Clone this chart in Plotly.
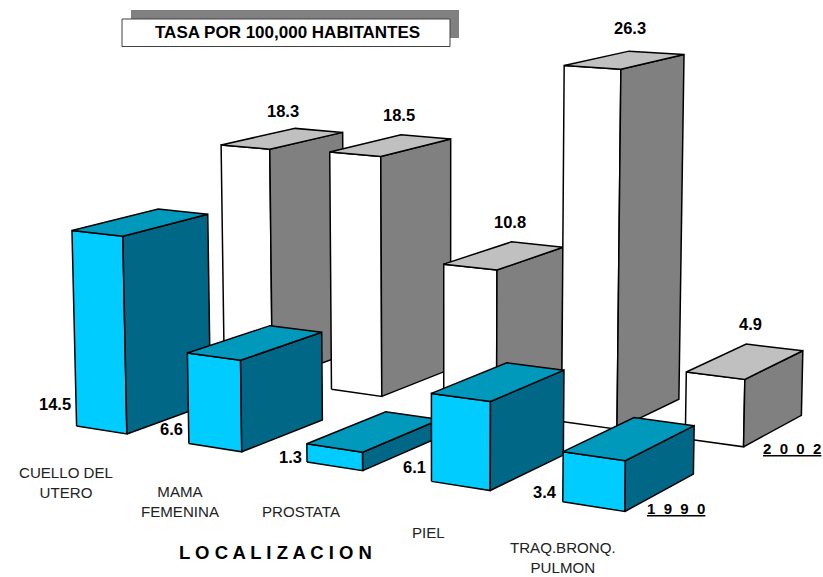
import numpy as np
import plotly.graph_objects as go

categories = ["CUELLO DEL<br>UTERO", "MAMA<br>FEMENINA", "PROSTATA", "PIEL", "TRAQ.BRONQ.<br>PULMON"]
values_1990 = [14.5, 6.6, 1.3, 6.1, 3.4]
values_2002 = [18.3, 18.5, 10.8, 26.3, 4.9]
series_names = ["1\u00a0\u00a09\u00a0\u00a09\u00a0\u00a00", "2\u00a0\u00a00\u00a0\u00a00\u00a0\u00a02"]
title_text = "TASA POR 100,000 HABITANTES"
axis_title = "L O C A L I Z A C I O N"

# Perspective camera: (category, series, rate) -> page pixels
CAMERA = np.array([
    [107.61, 165.955, -0.379672, 76.5881],
    [6.50401, -21.2995, -13.6809, 426.088],
    [-0.0247707, 0.0811231, -0.000850935, 1.0],
])
BAR_WIDTH = 0.454
BAR_DEPTH = 0.556

FONT = "Liberation Sans, Arial, sans-serif"
STYLES = [("#00CCFF", "#006786", "#0099BB"), ("#FFFFFF", "#808080", "#C0C0C0")]
CAT_LABEL_POS = [(65.5, 482), (180, 501), (301, 511), (428, 532), (563, 557.5)]
LABEL_POS_1990 = [(55, 404), (171, 429), (290, 457), (414.5, 467), (545, 492)]
LABEL_POS_2002 = [(283, 111), (399, 115), (510, 222), (630, 28), (750, 324)]


def proj(X, Y, Z):
    h = CAMERA @ np.array([X, Y, Z, 1.0])
    return h[0] / h[2], h[1] / h[2]


fig = go.Figure()
all_values = [values_1990, values_2002]
for s in (1, 0):
    for c, v in enumerate(all_values[s]):
        front, side, top = STYLES[s]

        def a(dx, dy, z):
            return proj(c + dx * BAR_WIDTH, s + dy * BAR_DEPTH, z)

        faces = [
            ([a(0, 0, 0), a(1, 0, 0), a(1, 0, v), a(0, 0, v)], front),
            ([a(1, 0, 0), a(1, 1, 0), a(1, 1, v), a(1, 0, v)], side),
            ([a(0, 0, v), a(1, 0, v), a(1, 1, v), a(0, 1, v)], top),
        ]
        for pts, col in faces:
            xs = [q[0] for q in pts] + [pts[0][0]]
            ys = [q[1] for q in pts] + [pts[0][1]]
            fig.add_trace(go.Scatter(
                x=xs, y=ys, fill="toself", fillcolor=col, mode="lines",
                line=dict(color="black", width=1.5), showlegend=False,
                name=f"{series_names[s]} {categories[c]}", hoverinfo="skip"))


def label(x, y, text, size=15, bold=False, color="black", **kw):
    t = f"<b>{text}</b>" if bold else text
    fig.add_annotation(x=x, y=y, xref="x", yref="y", text=t, showarrow=False,
                       font=dict(size=size, color=color, family=FONT, **kw),
                       align="center", xanchor="center", yanchor="middle")


for (x, y), v in zip(LABEL_POS_1990, values_1990):
    label(x, y, f"{v:.1f}", size=16.5, bold=True)
for (x, y), v in zip(LABEL_POS_2002, values_2002):
    label(x, y, f"{v:.1f}", size=16.5, bold=True)
for (x, y), t in zip(CAT_LABEL_POS, categories):
    label(x, y, t, size=15.1, color="#222222")
label(287, 32, title_text, size=17, bold=True)
label(275.5, 552, axis_title, size=18.5, bold=True)
label(675.5, 508, series_names[0], size=15, bold=True, lineposition="under")
label(791.5, 448, series_names[1], size=15, bold=True, lineposition="under")

fig.add_shape(type="rect", x0=131, y0=10, x1=459, y1=38, fillcolor="#808080", line_width=0, layer="below")
fig.add_shape(type="rect", x0=122, y0=19, x1=450, y1=46.5, fillcolor="white",
              line=dict(color="#404040", width=1), layer="below")

fig.update_layout(
    width=823, height=577, margin=dict(l=0, r=0, t=0, b=0),
    plot_bgcolor="white", paper_bgcolor="white", showlegend=False,
    xaxis=dict(range=[0, 823], visible=False),
    yaxis=dict(range=[577, 0], visible=False),
)
fig.write_html("out.html", config={"displayModeBar": False},
               post_script="document.body.style.margin='0';")
